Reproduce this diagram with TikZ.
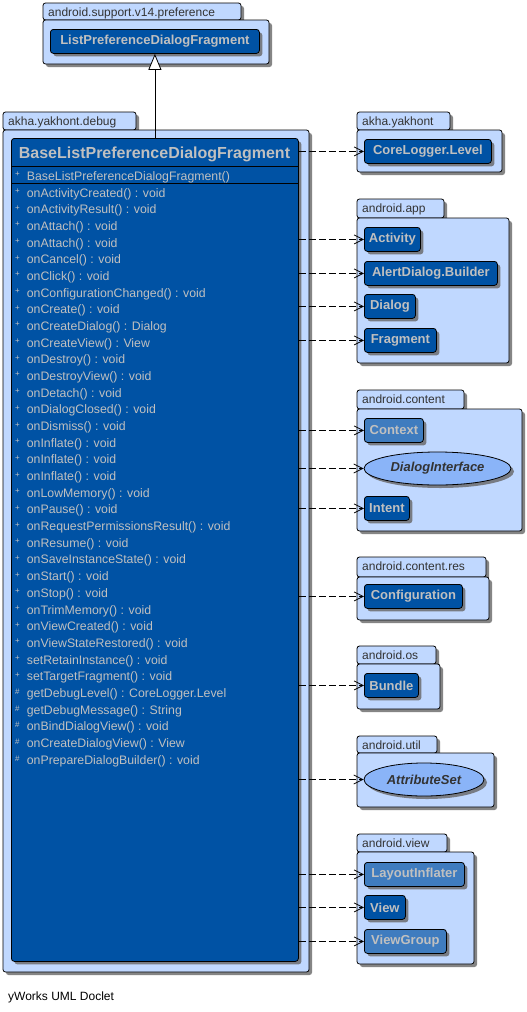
\documentclass[tikz,border=0pt]{standalone}
\usepackage{fontspec}
\setmainfont{Liberation Sans}
\usetikzlibrary{shapes.geometric,shadows,arrows.meta}

\definecolor{pkgfill}{RGB}{192,216,255}
\definecolor{clsfill}{RGB}{0,82,164}
\definecolor{clslight}{RGB}{63,124,191}
\definecolor{ifacefill}{RGB}{138,180,248}
\definecolor{clstext}{RGB}{192,192,192}
\definecolor{labeltext}{RGB}{51,51,51}

\newcommand\pub{\makebox[11.7pt][l]{\raisebox{3.5pt}{\fontsize{8}{8}\selectfont +}}}
\newcommand\prot{\makebox[11.7pt][l]{\raisebox{3pt}{\fontsize{8}{8}\selectfont\#}}}

\tikzset{
  dshadow/.style={drop shadow={shadow xshift=3pt,shadow yshift=-3pt,fill=black!60,opacity=0.8}},
  pkg/.style={draw=black,line width=0.8pt,fill=pkgfill,rounded corners=2.5pt,dshadow},
  pkglabel/.style={anchor=base west,inner sep=0pt,text=labeltext,font=\fontsize{12}{14}\selectfont},
  cls/.style={draw=black,line width=0.8pt,fill=clsfill,rounded corners=3pt,text=clstext,
    font=\bfseries\fontsize{13}{15}\selectfont,minimum height=24pt,inner xsep=2pt,
    anchor=north west,dshadow},
  clslite/.style={cls,fill=clslight},
  iface/.style={ellipse,draw=black,line width=0.8pt,fill=ifacefill,text=labeltext,
    font=\bfseries\itshape\fontsize{13}{15}\selectfont,minimum height=33pt,inner sep=1pt,dshadow},
  clsbox/.style={draw=black,line width=0.8pt,fill=clsfill,rounded corners=3pt,
    anchor=north west,inner sep=0pt,dshadow},
  members/.style={inner sep=0pt,anchor=base west,text=clstext,font=\fontsize{12.3}{16.68}\selectfont},
  dep/.style={draw=black,line width=0.8pt,dash pattern=on 7pt off 3pt,-{Straight Barb[length=9pt,width=9pt]}},
  inherit/.style={draw=black,line width=0.8pt,-{Triangle[open,length=16pt,width=13pt,fill=white]}},
}

\begin{document}
\begin{tikzpicture}[x=1pt,y=-1pt]
  \useasboundingbox (0,0) rectangle (527,1012);

  % packages
  \draw[pkg] (43,3) rectangle (241,20);
  \draw[pkg] (43,20) rectangle (269,64);
  \draw (48,16) node[pkglabel] (psupport) {android.support.v14.preference};

  \draw[pkg] (3,112) rectangle (136,130);
  \draw[pkg] (3,130) rectangle (309,972);
  \draw (8,125) node[pkglabel] (pdebug) {akha.yakhont.debug};

  \draw[pkg] (357,112) rectangle (450,130);
  \draw[pkg] (357,130) rectangle (502,172);
  \draw (362,125) node[pkglabel] (pyakhont) {akha.yakhont};

  \draw[pkg] (357,199) rectangle (444,218);
  \draw[pkg] (357,218) rectangle (509,363);
  \draw (362,212) node[pkglabel] (papp) {android.app};

  \draw[pkg] (357,390) rectangle (464,409);
  \draw[pkg] (357,409) rectangle (522,531);
  \draw (362,403) node[pkglabel] (pcontent) {android.content};

  \draw[pkg] (357,557) rectangle (486,577);
  \draw[pkg] (357,577) rectangle (489,620);
  \draw (362,570) node[pkglabel] (pres) {android.content.res};

  \draw[pkg] (357,646) rectangle (436,664);
  \draw[pkg] (357,664) rectangle (440,709);
  \draw (362,659) node[pkglabel] (pos) {android.os};

  \draw[pkg] (357,736) rectangle (437,753);
  \draw[pkg] (357,753) rectangle (494,807);
  \draw (362,749) node[pkglabel] (putil) {android.util};

  \draw[pkg] (357,834) rectangle (447,852);
  \draw[pkg] (357,852) rectangle (474,964);
  \draw (362,847) node[pkglabel] (pview) {android.view};

  % classes
  \draw (50,29) node[cls,minimum width=209pt] (lpdf) {ListPreferenceDialogFragment};

  \draw (11,138) node[clsbox,minimum width=287pt,minimum height=823pt] (base) {};
  \draw (154.5,158) node[anchor=base,inner sep=0pt,text=clstext,font=\bfseries\fontsize{16}{18}\selectfont] (title) {BaseListPreferenceDialogFragment};
  \draw[line width=0.8pt] (base.west |- 0,166) -- (base.east |- 0,166);
  \draw[line width=0.8pt] (base.west |- 0,183) -- (base.east |- 0,183);
  \draw (15,180) node[members] (ctor) {\pub BaseListPreferenceDialogFragment()};
  \draw (15,197) node[members] (ops) {%
    \begin{tabular}[t]{@{}l@{}l@{}}
      \pub & onActivityCreated() : void\\
      \pub & onActivityResult() : void\\
      \pub & onAttach() : void\\
      \pub & onAttach() : void\\
      \pub & onCancel() : void\\
      \pub & onClick() : void\\
      \pub & onConfigurationChanged() : void\\
      \pub & onCreate() : void\\
      \pub & onCreateDialog() : Dialog\\
      \pub & onCreateView() : View\\
      \pub & onDestroy() : void\\
      \pub & onDestroyView() : void\\
      \pub & onDetach() : void\\
      \pub & onDialogClosed() : void\\
      \pub & onDismiss() : void\\
      \pub & onInflate() : void\\
      \pub & onInflate() : void\\
      \pub & onInflate() : void\\
      \pub & onLowMemory() : void\\
      \pub & onPause() : void\\
      \pub & onRequestPermissionsResult() : void\\
      \pub & onResume() : void\\
      \pub & onSaveInstanceState() : void\\
      \pub & onStart() : void\\
      \pub & onStop() : void\\
      \pub & onTrimMemory() : void\\
      \pub & onViewCreated() : void\\
      \pub & onViewStateRestored() : void\\
      \pub & setRetainInstance() : void\\
      \pub & setTargetFragment() : void\\
      \prot & getDebugLevel() : CoreLogger.Level\\
      \prot & getDebugMessage() : String\\
      \prot & onBindDialogView() : void\\
      \prot & onCreateDialogView() : View\\
      \prot & onPrepareDialogBuilder() : void
    \end{tabular}};

  \draw (364,139) node[cls,minimum width=127pt] (core) {CoreLogger.Level};

  \draw (364,227) node[cls,minimum width=56pt] (act) {Activity};
  \draw (364,261) node[cls,minimum width=133pt] (alert) {AlertDialog.Builder};
  \draw (364,294) node[cls,minimum width=51pt] (dlg) {Dialog};
  \draw (364,328) node[cls,minimum width=72pt] (frag) {Fragment};

  \draw (364,418) node[clslite,minimum width=59pt] (ctx) {Context};
  \draw (437.5,468.5) node[iface,minimum width=147pt] (dlgif) {DialogInterface};
  \draw (364,496) node[cls,minimum width=45pt] (intent) {Intent};

  \draw (364,584) node[cls,minimum width=98pt] (conf) {Configuration};

  \draw (364,673) node[cls,minimum width=54pt] (bundle) {Bundle};

  \draw (424,779.5) node[iface,minimum width=120pt] (attr) {AttributeSet};

  \draw (364,862) node[clslite,minimum width=100pt] (inflater) {LayoutInflater};
  \draw (364,895) node[cls,minimum width=41pt] (view) {View};
  \draw (364,929) node[clslite,minimum width=82pt] (vgroup) {ViewGroup};

  % relations
  \draw[inherit] (lpdf |- base.north) -- (lpdf);
  \draw[dep] (base.east |- core) -- (core);
  \draw[dep] (base.east |- act) -- (act);
  \draw[dep] (base.east |- alert) -- (alert);
  \draw[dep] (base.east |- dlg) -- (dlg);
  \draw[dep] (base.east |- frag) -- (frag);
  \draw[dep] (base.east |- ctx) -- (ctx);
  \draw[dep] (base.east |- dlgif) -- (dlgif);
  \draw[dep] (base.east |- intent) -- (intent);
  \draw[dep] (base.east |- conf) -- (conf);
  \draw[dep] (base.east |- bundle) -- (bundle);
  \draw[dep] (base.east |- attr) -- (attr);
  \draw[dep] (base.east |- inflater) -- (inflater);
  \draw[dep] (base.east |- view) -- (view);
  \draw[dep] (base.east |- vgroup) -- (vgroup);

  \draw (8,1000) node[anchor=base west,inner sep=0pt,font=\fontsize{12}{14}\selectfont] (credit) {yWorks UML Doclet};
\end{tikzpicture}
\end{document}
